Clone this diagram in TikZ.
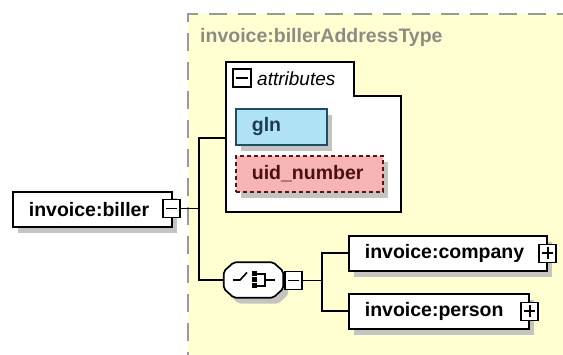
\documentclass[tikz,border=0pt]{standalone}
\usepackage{fontspec}
\setmainfont{Liberation Sans}
\usetikzlibrary{shadows}
\definecolor{typebg}{HTML}{FFFFD2}
\definecolor{typeborder}{HTML}{9A9A90}
\definecolor{titlegray}{HTML}{8C8C84}
\definecolor{glnfill}{HTML}{B0E2F6}
\definecolor{glnborder}{HTML}{1E4E62}
\definecolor{glntext}{HTML}{1E3A56}
\definecolor{uidfill}{HTML}{F7B4B4}
\definecolor{uidborder}{HTML}{5A1212}
\definecolor{uidtext}{HTML}{4A1010}
\definecolor{shadowgray}{HTML}{C4C4C0}
\tikzset{
  every node/.style={font=\fontsize{19.5}{23}\selectfont},
  shad/.style={drop shadow={shadow xshift=5pt, shadow yshift=-6pt, fill=shadowgray, opacity=1}},
  elem/.style={draw=black, line width=1.7pt, fill=white, rectangle, anchor=north west,
    inner xsep=16pt, inner ysep=0pt, align=left, font=\fontsize{19.5}{23}\selectfont\bfseries, shad},
  attrgln/.style={elem, draw=glnborder, fill=glnfill, text=glntext},
  attruid/.style={elem, draw=uidborder, fill=uidfill, text=uidtext, dashed, dash pattern=on 4pt off 3pt},
  tog/.style={draw=black, line width=1.6pt, fill=white, rectangle, inner sep=0pt,
    minimum width=17pt, minimum height=18pt},
  minusbox/.style={tog, path picture={\draw[line width=1.8pt] ([xshift=3pt]path picture bounding box.west) -- ([xshift=-3pt]path picture bounding box.east);}},
  plusbox/.style={tog, path picture={\draw[line width=1.8pt] ([xshift=3pt]path picture bounding box.west) -- ([xshift=-3pt]path picture bounding box.east);
     \draw[line width=1.8pt] ([yshift=-3pt]path picture bounding box.north) -- ([yshift=3pt]path picture bounding box.south);}},
  conn/.style={draw=black, line width=1.7pt},
}
\begin{document}
\begin{tikzpicture}[x=1pt,y=-1pt]
\useasboundingbox (0,0) rectangle (563,355);
\clip (0,0) rectangle (563,355);
\fill[white] (0,0) rectangle (563,355);
% complex type area
\fill[typebg] (188,14) rectangle (580,370);
\draw[typeborder, line width=1.8pt, dash pattern=on 18pt off 11pt] (188,370) -- (188,14) -- (580,14);
\node[anchor=base west, inner sep=0pt, text=titlegray, font=\fontsize{19.5}{23}\selectfont\bfseries] (title) at (200,43) {invoice:billerAddressType};
% attributes group
\draw[line width=1.7pt, fill=white] (226,62) -- (354,62) -- (354,96) -- (401,96) -- (401,212) -- (226,212) -- cycle;
\coordinate (attrW) at (226,138);
\node[minusbox, minimum width=18pt, minimum height=18pt] (aminus) at (242,78) {};
\node[anchor=west, inner sep=0pt, font=\fontsize{19}{23}\selectfont\itshape] (attrlabel) at (257,79) {attributes};
\node[attrgln, text width=59pt, minimum height=36pt] (gln) at (235,108) {gln};
\node[attruid, text width=115pt, minimum height=36pt] (uid) at (235,155) {uid\_number};
% biller element
\node[elem, text width=127pt, minimum height=35pt] (biller) at (12,191) {invoice:biller};
\node[minusbox] (bminus) at (171.5,208.5) {};
% choice compositor
\node[minimum width=59pt, minimum height=35pt, inner sep=0pt] (choice) at (253.5,280) {};
\draw[line width=1.7pt, fill=white, rounded corners=2pt, shad]
  ([xshift=10pt]choice.north west) -- ([xshift=-10pt]choice.north east) -- ([yshift=-9pt]choice.north east)
  -- ([yshift=9pt]choice.south east) -- ([xshift=-10pt]choice.south east) -- ([xshift=10pt]choice.south west)
  -- ([yshift=9pt]choice.south west) -- ([yshift=-9pt]choice.north west) -- cycle;
\draw[line width=1.6pt] (233,280) -- (240,280) -- (247,272.5);
\fill (251.5,271.5) rectangle (256.5,276.5);
\fill (251.5,277.5) rectangle (256.5,282.5);
\fill (251.5,283.5) rectangle (256.5,288.5);
\draw[line width=1.6pt] (256.5,274) -- (265,274) -- (265,286) -- (256.5,286);
\draw[line width=1.6pt] (265,280) -- (275,280);
\node[minusbox] (cminus) at (293.5,280.5) {};
% child elements
\node[elem, text width=166pt, minimum height=35pt] (company) at (348,235) {invoice:company};
\node[plusbox] (cplus) at (company.east) {};
\node[elem, text width=148pt, minimum height=35pt] (person) at (348,293) {invoice:person};
\node[plusbox] (pplus) at (person.east) {};
% connectors
\draw[conn] (bminus.east) -- ++(19,0);
\draw[conn] (attrW) -- ++(-27,0) |- (choice.west);
\draw[conn] (cminus.east) -- ++(20,0);
\draw[conn] (company.west) -- ++(-26,0) |- (person.west);
\end{tikzpicture}
\end{document}
